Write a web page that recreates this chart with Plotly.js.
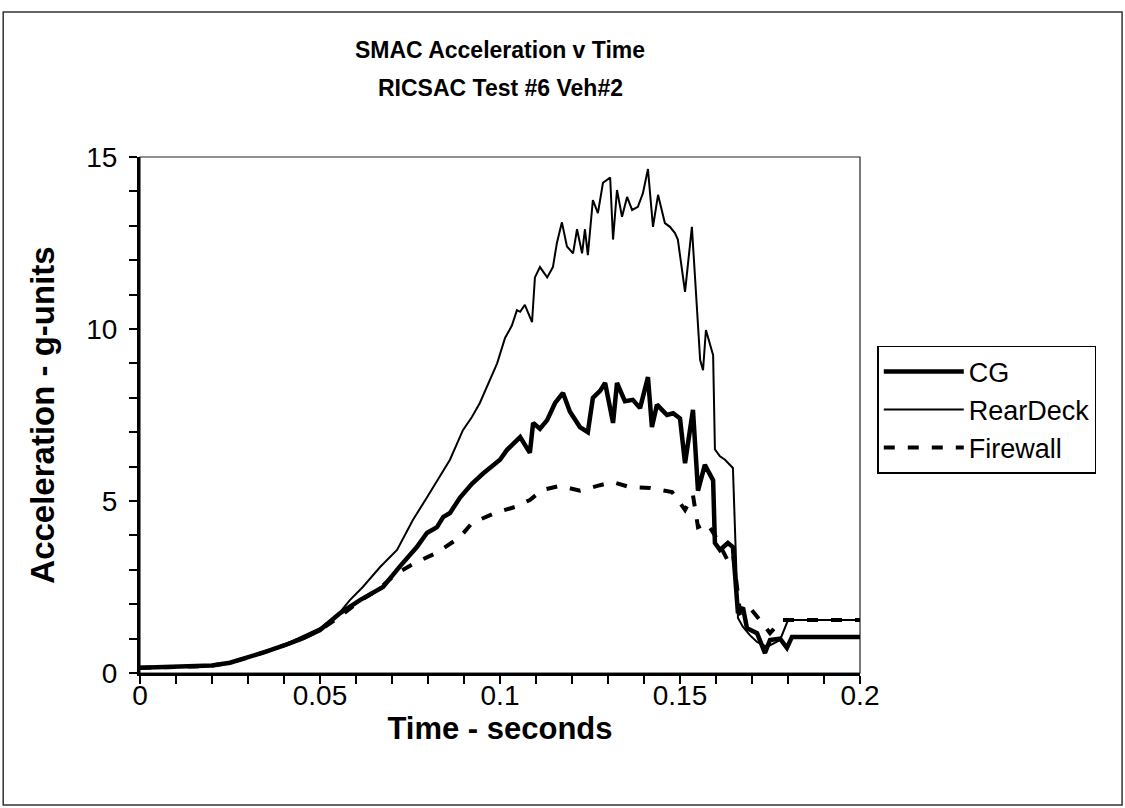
<!DOCTYPE html>
<html>
<head>
<meta charset="utf-8">
<script src="https://cdn.plot.ly/plotly-3.0.1.min.js"></script>
<style>html,body{margin:0;padding:0;background:#fff;}#chart{width:1125px;height:808px;}</style>
</head>
<body>
<div id="chart"></div>
<script>
// ---- Data (time in seconds, acceleration in g) ----
const cgTime = [0,0.005,0.01,0.015,0.02,0.025,0.03,0.035,0.04,0.045,0.05,0.0556,0.0611,0.0675,0.0722,0.0758,0.0769,0.0797,0.0825,0.0842,0.0861,0.0889,0.0922,0.0953,0.1,0.1019,0.1056,0.1083,0.1092,0.1111,0.1131,0.1153,0.1175,0.1194,0.1222,0.1244,0.1258,0.1278,0.1292,0.1314,0.1325,0.1347,0.1369,0.1389,0.1411,0.1422,0.1436,0.145,0.1464,0.1481,0.15,0.1514,0.1536,0.155,0.1569,0.1592,0.1597,0.1611,0.1633,0.1647,0.1661,0.1675,0.1686,0.1714,0.1736,0.175,0.1778,0.1797,0.1811,0.2];
const cgAccel = [0.15,0.16,0.17,0.19,0.22,0.3,0.45,0.62,0.8,1.0,1.25,1.74,2.12,2.5,3.1,3.5,3.66,4.07,4.24,4.53,4.65,5.1,5.5,5.8,6.2,6.48,6.86,6.4,7.27,7.1,7.35,7.85,8.14,7.6,7.15,7.0,8.0,8.2,8.43,7.27,8.43,7.9,7.94,7.7,8.6,7.15,7.8,7.65,7.5,7.55,7.4,6.1,7.65,5.3,6.05,5.6,3.78,3.58,3.78,3.66,1.74,1.9,1.3,1.16,0.58,0.96,1.0,0.73,1.05,1.05];

const rearTime = [0,0.005,0.01,0.015,0.02,0.025,0.03,0.035,0.04,0.045,0.05,0.055,0.0583,0.0619,0.0667,0.0714,0.0758,0.0797,0.0833,0.0861,0.0897,0.0922,0.0944,0.0972,0.0992,0.1014,0.1033,0.1047,0.1056,0.1069,0.1089,0.1097,0.1111,0.1131,0.1147,0.1158,0.1172,0.1186,0.1203,0.1214,0.1228,0.1236,0.1244,0.1258,0.1272,0.1286,0.1306,0.1314,0.1325,0.1339,0.1353,0.1367,0.1383,0.1397,0.1411,0.1425,0.1439,0.1458,0.1472,0.1486,0.1494,0.1514,0.1533,0.1556,0.1564,0.1572,0.1592,0.1597,0.1611,0.1625,0.1647,0.1661,0.1675,0.1694,0.1714,0.1742,0.1758,0.1778,0.18,0.2];
const rearAccel = [0.15,0.16,0.17,0.19,0.22,0.3,0.45,0.62,0.82,1.05,1.3,1.7,2.12,2.5,3.08,3.58,4.45,5.1,5.7,6.2,7.06,7.44,7.85,8.5,9.0,9.74,10.1,10.55,10.5,10.7,10.2,11.5,11.8,11.5,11.8,12.5,13.1,12.4,12.2,12.9,12.2,12.9,12.15,13.75,13.37,14.25,14.4,12.6,14.04,13.26,13.84,13.46,13.55,13.95,14.65,12.97,13.9,13.08,12.97,12.79,12.6,11.08,12.97,9.1,8.8,9.97,9.24,6.5,6.3,6.2,5.96,1.6,1.34,1.1,0.9,0.76,0.85,0.96,1.54,1.54];

const fireTime = [0,0.005,0.01,0.015,0.02,0.025,0.03,0.035,0.04,0.045,0.05,0.055,0.0611,0.0658,0.0714,0.0764,0.0825,0.0889,0.0922,0.0986,0.1042,0.1083,0.1117,0.1167,0.1222,0.1278,0.1314,0.1361,0.1417,0.1478,0.1514,0.1536,0.155,0.1575,0.1597,0.1631,0.1647,0.1667,0.1694,0.1722,0.175,0.1783,0.2];
const fireAccel = [0.15,0.16,0.17,0.19,0.22,0.3,0.45,0.62,0.8,1.0,1.25,1.6,2.1,2.4,2.9,3.2,3.5,3.95,4.36,4.65,4.83,5.03,5.32,5.44,5.3,5.46,5.55,5.4,5.38,5.26,4.74,5.17,4.24,4.36,4.0,3.3,3.5,1.74,1.9,1.54,1.16,1.54,1.54];

const seriesNames = ["CG","RearDeck","Firewall"];
const titleLines = ["SMAC Acceleration v Time", "RICSAC Test #6 Veh#2"];
const xTickVals = [0,0.05,0.1,0.15,0.2];
const xTickText = ["0","0.05","0.1","0.15","0.2"];
const yTickVals = [0,5,10,15];

const traces = [
  {x: cgTime, y: cgAccel, name: seriesNames[0], type: "scatter", mode: "lines",
   line: {color: "#000", width: 4.5}},
  {x: rearTime, y: rearAccel, name: seriesNames[1], type: "scatter", mode: "lines",
   line: {color: "#000", width: 2}},
  {x: fireTime, y: fireAccel, name: seriesNames[2], type: "scatter", mode: "lines",
   line: {color: "#000", width: 4, dash: "11px,13px"}}
];

const FONT = "Arial, 'Liberation Sans', sans-serif";

const layout = {
  width: 1125, height: 808,
  paper_bgcolor: "#fff", plot_bgcolor: "#fff",
  margin: {l: 140, r: 265, t: 157, b: 135},
  showlegend: true,
  font: {family: FONT, color: "#000"},
  title: {
    text: "<b>" + titleLines[0] + "</b>",
    font: {family: FONT, size: 23, color: "#000"},
    x: 0.5, xref: "paper", xanchor: "center",
    y: 1 - 50/808, yref: "container", yanchor: "middle"
  },
  annotations: [
    {text: "<b>" + titleLines[1] + "</b>", xref: "paper", yref: "paper",
     x: 0.5, y: (673 - 88) / 516, xanchor: "center", yanchor: "middle",
     showarrow: false, font: {family: FONT, size: 23, color: "#000"}}
  ],
  xaxis: {
    range: [0, 0.2], tickvals: xTickVals, ticktext: xTickText,
    ticks: "outside", ticklen: 8, tickwidth: 2.5, tickcolor: "#000",
    minor: {dtick: 0.01, ticks: "outside", ticklen: 8, tickwidth: 2, tickcolor: "#000", showgrid: false},
    showline: true, linewidth: 3, linecolor: "#000",
    showgrid: false, zeroline: false,
    tickfont: {size: 28, family: FONT},
    ticklabelstandoff: -13,
    title: {text: "<b>Time - seconds</b>", font: {size: 31, family: FONT}, standoff: 7}
  },
  yaxis: {
    range: [0, 15], tickvals: yTickVals,
    ticks: "outside", ticklen: 8, tickwidth: 2.5, tickcolor: "#000",
    minor: {dtick: 1, ticks: "outside", ticklen: 8, tickwidth: 2, tickcolor: "#000", showgrid: false},
    showline: true, linewidth: 3, linecolor: "#000",
    showgrid: false, zeroline: false,
    tickfont: {size: 28, family: FONT},
    ticklabelstandoff: 6,
    title: {text: "<b>Acceleration - g-units</b>", font: {size: 33, family: FONT}, standoff: 22}
  },
  legend: {
    x: 1.024, y: 0.634, xanchor: "left", yanchor: "top",
    bgcolor: "#fff", bordercolor: "#000", borderwidth: 1.5,
    font: {size: 27, family: FONT, color: "#000"},
    itemwidth: 80, tracegroupgap: 0
  },
  shapes: [
    {type: "rect", xref: "paper", yref: "paper", x0: 0, x1: 1, y0: 0, y1: 1,
     line: {color: "#222", width: 1.2}, layer: "below"},
    {type: "rect", xref: "paper", yref: "paper", x0: -0.19, x1: 1.364, y0: -0.256, y1: 1.281,
     line: {color: "#333", width: 1.5}, layer: "below"}
  ]
};

Plotly.newPlot("chart", traces, layout, {staticPlot: true, displayModeBar: false});
</script>
</body>
</html>
